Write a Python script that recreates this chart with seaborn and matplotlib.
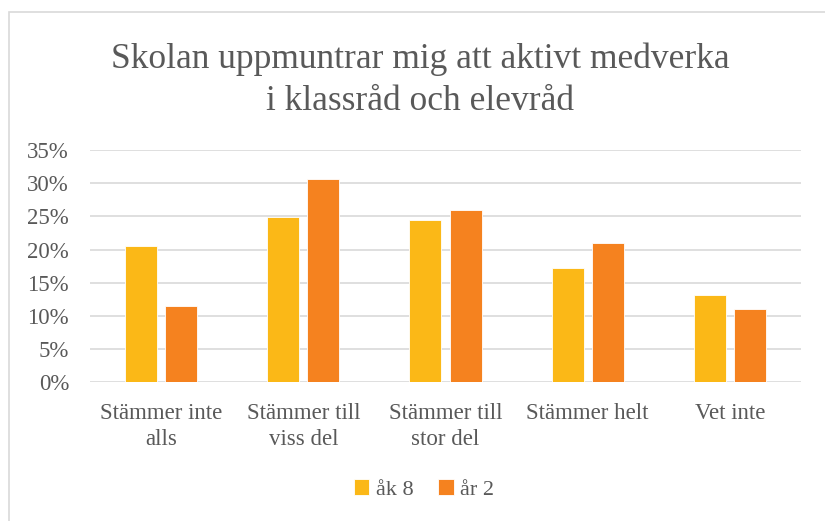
import pandas as pd
import seaborn as sns
import matplotlib.pyplot as plt
from matplotlib.ticker import PercentFormatter
from matplotlib.patches import Rectangle

categories = ["Stämmer inte\nalls", "Stämmer till\nviss del", "Stämmer till\nstor del",
              "Stämmer helt", "Vet inte"]
ak8 = [0.205, 0.249, 0.244, 0.173, 0.132]
ar2 = [0.115, 0.307, 0.259, 0.210, 0.110]
series = ["åk 8", "år 2"]
colors = ["#FBB817", "#F5821F"]

df = pd.DataFrame({
    "kategori": categories * 2,
    "grupp": [series[0]] * len(categories) + [series[1]] * len(categories),
    "andel": ak8 + ar2,
})

sns.set_style("white")
plt.rcParams["font.family"] = ["Liberation Serif", "DejaVu Serif"]
grey = "#595959"

fig = plt.figure(figsize=(8.25, 5.21), dpi=100)
ax = fig.add_axes([0.109, 0.266, 0.862, 0.446])

sns.barplot(data=df, x="kategori", y="andel", hue="grupp", palette=colors,
            width=0.5625, gap=0.2, edgecolor="white", linewidth=0.6,
            saturation=1, ax=ax)

ax.set_ylim(0, 0.35)
ax.set_yticks([0, 0.05, 0.10, 0.15, 0.20, 0.25, 0.30, 0.35])
ax.yaxis.set_major_formatter(PercentFormatter(1.0, decimals=0))
ax.grid(axis="y", color="#D9D9D9", linewidth=1.2)
ax.set_axisbelow(True)
for s in ax.spines.values():
    s.set_visible(False)
ax.tick_params(axis="both", length=0, labelsize=16.5, labelcolor=grey)
ax.tick_params(axis="y", pad=15)
ax.tick_params(axis="x", pad=15)
for t in ax.get_xticklabels():
    t.set_linespacing(1.3)
ax.set_xlabel("")
ax.set_ylabel("")

handles, labels = ax.get_legend_handles_labels()
ax.get_legend().remove()
leg = fig.legend(handles, labels, loc="center", bbox_to_anchor=(0.514, 0.06), ncol=2,
                 frameon=False, handlelength=0.7, handleheight=0.7, handletextpad=0.3,
                 columnspacing=1.1, fontsize=16)
for t in leg.get_texts():
    t.set_color(grey)

fig.text(0.509, 0.846, "Skolan uppmuntrar mig att aktivt medverka\ni klassråd och elevråd",
         ha="center", va="center", fontsize=25.5, color=grey, linespacing=1.35)

fig.patches.append(Rectangle((9 / 825, -0.1), 1.2, 1 - 12 / 521 + 0.1,
                             transform=fig.transFigure, fill=False,
                             edgecolor="#D9D9D9", linewidth=1.2, clip_on=False))

fig.savefig("out.png", dpi=100)
